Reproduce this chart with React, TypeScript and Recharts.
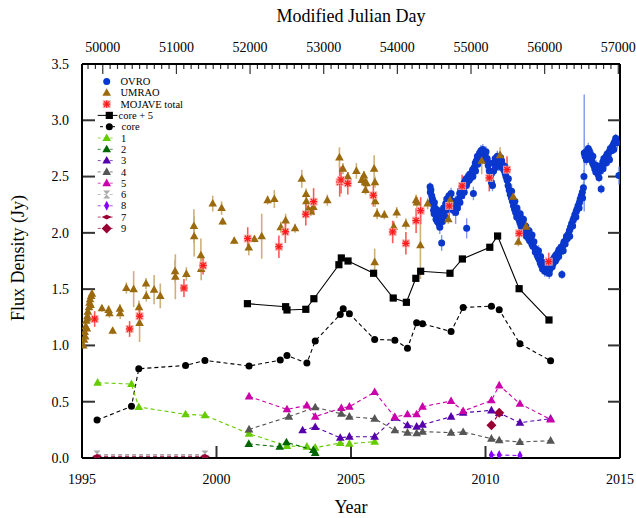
import React from 'react';
import { ScatterChart, Scatter, XAxis, YAxis, ErrorBar, ReferenceLine } from 'recharts';

const FONT = '"Liberation Serif", "Times New Roman", Times, serif';
const W = 636;
const H = 518;
const PL = 82;
const PR = 620;
const PT = 64;
const PB = 458;

// ---- axes ----
const yearTicks = [1995, 2000, 2005, 2010, 2015];
const fluxTicks = [0, 0.5, 1, 1.5, 2, 2.5, 3, 3.5];
const mjdLabels = [50000, 51000, 52000, 53000, 54000, 55000, 56000, 57000];
const MJD0 = 49718; // MJD of 1995-01-01
const mjdDomain = [MJD0, MJD0 + 20 * 365.25];
const mjdTicks: number[] = [];
for (let m = 49800; m <= 57000; m += 100) mjdTicks.push(m);
const toMjd = (year: number) => MJD0 + (year - 1995) * 365.25;

// ---- data: [year, flux, error] ----
const ovro: [number, number, number][] = [
  [2007.94,2.41,0.04],[2007.95,2.36,0.05],[2007.97,2.38,0.04],[2008.00,2.33,0.05],[2008.01,2.28,0.04],[2008.03,2.30,0.06],[2008.06,2.25,0.04],[2008.07,2.20,0.05],[2008.09,2.17,0.04],[2008.10,2.27,0.05],[2008.12,2.22,0.06],[2008.15,2.18,0.04],[2008.16,2.12,0.05],[2008.18,2.15,0.04],[2008.21,2.10,0.05],[2008.22,2.20,0.04],[2008.24,2.13,0.08],[2008.27,2.08,0.05],[2008.28,2.16,0.04],[2008.30,2.05,0.06],[2008.33,2.12,0.05],[2008.37,1.91,0.07],[2008.40,2.10,0.04],[2008.41,2.18,0.05],[2008.44,2.22,0.04],[2008.48,2.15,0.05],[2008.52,2.26,0.04],[2008.53,2.20,0.06],[2008.56,2.30,0.04],[2008.60,2.24,0.05],[2008.64,2.33,0.04],[2008.65,2.28,0.05],[2008.68,2.30,0.04],[2008.72,2.35,0.05],[2008.73,2.25,0.04],[2008.76,2.28,0.06],[2008.80,2.20,0.05],[2008.84,2.24,0.04],[2008.88,2.28,0.05],[2008.89,2.18,0.10],[2008.92,2.26,0.04],[2008.96,2.22,0.05],[2009.00,2.30,0.04],[2009.04,2.35,0.05],[2009.05,2.27,0.04],[2009.08,2.38,0.05],[2009.12,2.33,0.04],[2009.16,2.40,0.05],[2009.20,2.44,0.04],[2009.21,2.36,0.06],[2009.24,2.46,0.04],[2009.28,2.48,0.05],[2009.29,2.42,0.04],[2009.30,2.04,0.09],[2009.32,2.45,0.05],[2009.36,2.50,0.04],[2009.40,2.47,0.05],[2009.41,2.52,0.04],[2009.44,2.49,0.05],[2009.48,2.53,0.04],[2009.52,2.56,0.05],[2009.53,2.50,0.04],[2009.55,2.35,0.06],[2009.58,2.58,0.04],[2009.62,2.62,0.05],[2009.63,2.55,0.04],[2009.66,2.64,0.05],[2009.70,2.68,0.04],[2009.71,2.61,0.05],[2009.74,2.66,0.04],[2009.78,2.71,0.05],[2009.82,2.68,0.04],[2009.83,2.73,0.05],[2009.86,2.70,0.04],[2009.90,2.74,0.05],[2009.91,2.67,0.04],[2009.94,2.71,0.05],[2009.98,2.69,0.04],[2010.02,2.72,0.05],[2010.03,2.64,0.08],[2010.06,2.66,0.04],[2010.10,2.60,0.05],[2010.14,2.55,0.04],[2010.15,2.62,0.05],[2010.18,2.50,0.04],[2010.22,2.45,0.06],[2010.23,2.53,0.04],[2010.26,2.42,0.05],[2010.30,2.55,0.04],[2010.33,2.62,0.05],[2010.36,2.66,0.04],[2010.37,2.58,0.05],[2010.40,2.63,0.04],[2010.44,2.68,0.05],[2010.48,2.65,0.04],[2010.49,2.60,0.05],[2010.52,2.62,0.04],[2010.56,2.67,0.05],[2010.60,2.64,0.04],[2010.61,2.58,0.05],[2010.64,2.60,0.04],[2010.68,2.56,0.05],[2010.72,2.59,0.04],[2010.73,2.53,0.05],[2010.76,2.50,0.04],[2010.80,2.47,0.05],[2010.84,2.42,0.04],[2010.85,2.48,0.05],[2010.88,2.38,0.04],[2010.92,2.34,0.05],[2010.96,2.31,0.04],[2010.97,2.37,0.06],[2011.00,2.28,0.04],[2011.04,2.24,0.05],[2011.08,2.21,0.04],[2011.09,2.28,0.05],[2011.12,2.18,0.04],[2011.16,2.14,0.05],[2011.17,2.22,0.04],[2011.20,2.16,0.05],[2011.24,2.12,0.04],[2011.28,2.09,0.05],[2011.29,2.17,0.04],[2011.32,2.06,0.05],[2011.36,2.10,0.04],[2011.40,2.04,0.05],[2011.41,2.12,0.04],[2011.44,2.02,0.05],[2011.48,1.99,0.04],[2011.49,2.06,0.05],[2011.52,1.97,0.04],[2011.56,2.00,0.05],[2011.60,1.95,0.04],[2011.61,2.02,0.05],[2011.64,1.93,0.04],[2011.68,1.96,0.05],[2011.72,1.90,0.04],[2011.73,1.98,0.05],[2011.76,1.88,0.04],[2011.80,1.92,0.05],[2011.84,1.86,0.04],[2011.85,1.83,0.05],[2011.88,1.85,0.04],[2011.92,1.80,0.05],[2011.96,1.78,0.04],[2011.97,1.84,0.05],[2012.00,1.76,0.04],[2012.04,1.73,0.05],[2012.05,1.79,0.04],[2012.08,1.71,0.05],[2012.12,1.68,0.04],[2012.13,1.74,0.05],[2012.16,1.70,0.04],[2012.20,1.66,0.05],[2012.24,1.69,0.04],[2012.25,1.73,0.05],[2012.28,1.65,0.04],[2012.32,1.67,0.05],[2012.36,1.71,0.04],[2012.37,1.64,0.05],[2012.40,1.68,0.04],[2012.44,1.72,0.05],[2012.48,1.70,0.04],[2012.49,1.76,0.05],[2012.52,1.73,0.04],[2012.56,1.78,0.05],[2012.60,1.75,0.04],[2012.61,1.80,0.05],[2012.64,1.77,0.04],[2012.68,1.82,0.05],[2012.72,1.79,0.04],[2012.73,1.85,0.05],[2012.76,1.83,0.04],[2012.80,1.87,0.05],[2012.84,1.63,0.04],[2012.88,1.89,0.05],[2012.89,1.84,0.04],[2012.92,1.92,0.05],[2012.96,1.90,0.04],[2013.00,1.94,0.05],[2013.01,1.97,0.04],[2013.04,1.95,0.05],[2013.08,1.99,0.04],[2013.12,2.02,0.05],[2013.13,1.97,0.04],[2013.16,2.05,0.05],[2013.20,2.08,0.04],[2013.24,2.06,0.05],[2013.25,2.11,0.04],[2013.28,2.13,0.05],[2013.32,2.16,0.04],[2013.36,2.14,0.05],[2013.37,2.19,0.04],[2013.40,2.21,0.05],[2013.44,2.24,0.04],[2013.48,2.22,0.05],[2013.49,2.27,0.04],[2013.52,2.30,0.05],[2013.56,2.33,0.04],[2013.60,2.36,0.05],[2013.61,2.31,0.06],[2013.64,2.40,0.05],[2013.66,2.50,0.06],[2013.67,2.71,0.52],[2013.70,2.68,0.05],[2013.74,2.72,0.04],[2013.75,2.65,0.05],[2013.78,2.70,0.04],[2013.82,2.75,0.05],[2013.86,2.73,0.04],[2013.87,2.67,0.05],[2013.90,2.70,0.04],[2013.94,2.65,0.05],[2013.98,2.62,0.04],[2013.99,2.68,0.05],[2014.02,2.60,0.04],[2014.06,2.57,0.05],[2014.10,2.54,0.04],[2014.11,2.60,0.05],[2014.14,2.58,0.04],[2014.18,2.52,0.05],[2014.22,2.49,0.04],[2014.26,2.55,0.05],[2014.30,2.39,0.04],[2014.33,2.60,0.05],[2014.36,2.63,0.04],[2014.37,2.57,0.05],[2014.40,2.66,0.04],[2014.44,2.64,0.05],[2014.48,2.62,0.04],[2014.49,2.68,0.05],[2014.52,2.70,0.04],[2014.56,2.67,0.05],[2014.60,2.72,0.04],[2014.61,2.65,0.05],[2014.64,2.75,0.04],[2014.68,2.73,0.05],[2014.72,2.77,0.04],[2014.76,2.79,0.05],[2014.77,2.74,0.04],[2014.80,2.81,0.05],[2014.84,2.84,0.04],[2014.90,2.80,0.05],[2014.96,2.51,0.08],
];

const umrao: [number, number, number][] = [
  [1995.05,1.00,0.03],[1995.08,1.05,0.03],[1995.10,1.12,0.03],[1995.12,1.08,0.03],[1995.14,1.17,0.03],[1995.16,1.22,0.03],[1995.18,1.15,0.03],[1995.20,1.26,0.03],[1995.22,1.30,0.03],[1995.24,1.24,0.04],[1995.26,1.34,0.03],[1995.28,1.38,0.03],[1995.30,1.41,0.03],[1995.32,1.36,0.03],[1995.34,1.44,0.03],[1995.37,1.46,0.03],
  [1995.74,1.33,0.03],[1995.99,1.315,0.04],[1996.02,1.285,0.04],[1996.14,1.13,0.03],[1996.41,1.325,0.04],[1996.42,1.285,0.05],[1996.65,1.51,0.05],[1996.92,1.50,0.16],[1997.12,1.34,0.06],[1997.14,1.20,0.17],[1997.38,1.55,0.05],[1997.39,1.44,0.05],[1997.68,1.495,0.13],[1997.91,1.44,0.11],[1998.46,1.66,0.1],[1998.47,1.61,0.2],[1998.88,1.635,0.06],[1999.16,2.06,0.15],[1999.17,1.97,0.18],[1999.42,1.80,0.15],[1999.43,1.68,0.1],[1999.86,2.26,0.07],[2000.19,2.22,0.06],[2000.23,2.10,0.03],[2000.66,1.93,0.03],
  [2001.20,1.87,0.07],[2001.41,1.945,0.03],[2001.68,1.97,0.2],[2001.90,2.29,0.04],[2002.15,2.30,0.08],[2002.39,2.05,0.05],[2002.57,2.11,0.06],[2002.92,2.04,0.04],[2003.17,2.48,0.08],[2003.33,2.345,0.05],[2003.34,2.28,0.05],[2003.41,2.21,0.04],[2003.51,2.19,0.04],[2003.60,2.23,0.05],[2004.12,2.29,0.05],[2004.57,2.67,0.09],[2004.70,2.57,0.05],[2004.88,2.50,0.04],[2005.20,2.55,0.07],[2005.40,2.47,0.04],[2005.48,2.51,0.04],[2005.53,2.45,0.04],[2005.58,2.44,0.04],[2005.54,2.38,0.04],[2005.86,2.57,0.12],[2005.89,2.45,0.05],[2005.90,2.28,0.05],[2005.88,1.74,0.12],[2005.97,2.17,0.05],[2006.24,2.16,0.04],[2006.59,2.055,0.05],[2006.70,2.18,0.05],[2007.04,2.08,0.05],[2007.42,2.29,0.05],[2007.45,2.27,0.05],[2007.58,1.89,0.3],[2007.85,2.26,0.05],
  [2008.62,2.12,0.04],[2008.68,2.29,0.05],[2009.86,2.64,0.12],[2010.54,2.69,0.07],[2011.03,2.32,0.04],[2011.22,1.92,0.04],[2011.51,2.055,0.06],
];

const mojave: [number, number, number][] = [
  [1995.47,1.235,0.07],[1996.77,1.146,0.07],[1997.14,1.26,0.08],[1998.79,1.51,0.08],[1999.50,1.71,0.08],[2001.16,1.95,0.1],[2002.32,1.877,0.1],[2002.56,2.01,0.1],[2003.32,2.165,0.1],[2003.61,2.277,0.12],[2004.58,2.452,0.13],[2004.63,2.47,0.12],[2004.88,2.44,0.1],[2005.83,2.334,0.1],[2006.55,2.008,0.1],[2007.04,1.907,0.1],[2007.42,2.109,0.11],[2007.59,2.197,0.12],[2008.65,2.239,0.1],[2009.13,2.416,0.1],[2010.14,2.488,0.12],[2010.80,2.561,0.12],[2011.25,1.996,0.1],[2012.35,1.744,0.08],
];

const corePlus5: [number, number][] = [
  [2001.15,1.371],[2002.57,1.344],[2002.62,1.315],[2003.32,1.321],[2003.62,1.415],[2004.55,1.717],[2004.64,1.777],[2004.89,1.750],[2005.84,1.641],[2006.57,1.421],[2007.06,1.383],[2007.41,1.596],[2007.59,1.659],[2008.68,1.641],[2009.14,1.768],[2010.16,1.872],[2010.45,1.972],[2011.25,1.504],[2012.36,1.226],
];

const core: [number, number][] = [
  [1995.56,0.337],[1996.84,0.459],[1997.11,0.793],[1998.85,0.822],[1999.57,0.867],[2001.21,0.817],[2002.37,0.870],[2002.62,0.911],[2003.36,0.843],[2003.67,1.04],[2004.60,1.275],[2004.71,1.325],[2004.94,1.281],[2005.88,1.053],[2006.63,1.047],[2007.10,0.976],[2007.44,1.201],[2007.66,1.192],[2008.72,1.124],[2009.17,1.337],[2010.22,1.349],[2010.51,1.317],[2011.28,1.015],[2012.42,0.864],
];

const comp1: [number, number][] = [
  [1995.58,0.669],[1996.84,0.657],[1997.11,0.453],[1998.85,0.388],[1999.57,0.379],[2001.21,0.216],[2002.62,0.107],[2003.36,0.101],[2003.67,0.092],[2004.60,0.133],[2004.94,0.127],[2005.88,0.145],
];
const comp2: [number, number][] = [
  [2001.20,0.125],[2002.35,0.100],[2002.60,0.140],[2003.60,0.070],[2003.67,0.045],
];
const comp3: [number, number][] = [
  [2003.20,0.246],[2003.67,0.275],[2004.60,0.180],[2004.94,0.189],[2005.88,0.189],[2006.63,0.358],[2007.10,0.290],[2007.44,0.278],[2007.66,0.296],[2008.72,0.367],[2009.17,0.402],[2010.22,0.423],[2010.51,0.400],[2011.28,0.314],[2012.42,0.349],
];
const comp4: [number, number][] = [
  [2001.21,0.254],[2002.69,0.367],[2003.67,0.450],[2004.64,0.393],[2004.94,0.367],[2005.88,0.349],[2006.63,0.246],[2007.10,0.225],[2007.44,0.219],[2007.66,0.234],[2008.72,0.225],[2009.17,0.231],[2010.22,0.172],[2010.51,0.157],[2011.28,0.142],[2012.42,0.154],
];
const comp5: [number, number][] = [
  [2001.21,0.547],[2002.62,0.432],[2003.36,0.467],[2003.67,0.367],[2004.64,0.444],[2004.94,0.456],[2005.88,0.586],[2006.63,0.364],[2007.10,0.388],[2007.44,0.388],[2007.66,0.456],[2008.72,0.506],[2009.17,0.417],[2010.22,0.512],[2010.51,0.645],[2011.28,0.482],[2012.42,0.343],
];
const comp6: [number, number][] = [[1995.56,0.030],[1999.57,0.030]];
const comp7: [number, number][] = [[1995.56,0.015],[1999.57,0.015]];
const comp8: [number, number][] = [[2010.22,0.027],[2010.51,0.027],[2011.28,0.022]];
const comp9: [number, number][] = [[2010.22,0.290],[2010.51,0.402]];

const legendLabels = ['OVRO', 'UMRAO', 'MOJAVE total', 'core + 5', 'core', '1', '2', '3', '4', '5', '6', '8', '7', '9'];

// ---- colours ----
const C = {
  ovro: '#0a37cc', ovroErr: '#7f98ec',
  umrao: '#9c6a0e', umraoErr: '#cdb07a',
  mojave: '#ff1a1a', mojaveErr: '#ff5a5a', mojaveBg: '#ffaaaa',
  c1: '#66cc00', c2: '#006600', c3: '#5500aa', c4: '#555555', c5: '#cc00aa',
  c6: '#aaaaaa', c7: '#990033', c8: '#8800ff', c9: '#990033',
};

type Kind = 'circle' | 'tri' | 'square' | 'star' | 'hour' | 'diamond' | 'vdiamond' | 'hdiamond';

function drawMarker(kind: Kind, color: string, cx: number, cy: number, key?: string | number) {
  switch (kind) {
    case 'circle':
      return <circle key={key} cx={cx} cy={cy} r={3.5} fill={color} />;
    case 'square':
      return <rect key={key} x={cx - 3.6} y={cy - 3.6} width={7.2} height={7.2} fill={color} />;
    case 'tri':
      return <polygon key={key} points={`${cx},${cy - 4.6} ${cx - 4.3},${cy + 3} ${cx + 4.3},${cy + 3}`} fill={color} />;
    case 'star':
      return (
        <g key={key}>
          <rect x={cx - 4} y={cy - 4} width={8} height={8} fill={C.mojaveBg} opacity={0.85} />
          <line x1={cx - 3.6} y1={cy} x2={cx + 3.6} y2={cy} stroke={color} strokeWidth={1.3} />
          <line x1={cx} y1={cy - 3.6} x2={cx} y2={cy + 3.6} stroke={color} strokeWidth={1.3} />
          <line x1={cx - 2.7} y1={cy - 2.7} x2={cx + 2.7} y2={cy + 2.7} stroke={color} strokeWidth={1.3} />
          <line x1={cx - 2.7} y1={cy + 2.7} x2={cx + 2.7} y2={cy - 2.7} stroke={color} strokeWidth={1.3} />
        </g>
      );
    case 'hour':
      return (
        <g key={key}>
          <polygon points={`${cx - 3.5},${cy - 4} ${cx + 3.5},${cy - 4} ${cx},${cy}`} fill={color} />
          <polygon points={`${cx - 3.5},${cy + 4} ${cx + 3.5},${cy + 4} ${cx},${cy}`} fill={color} />
        </g>
      );
    case 'diamond':
      return <polygon key={key} points={`${cx},${cy - 5} ${cx + 5},${cy} ${cx},${cy + 5} ${cx - 5},${cy}`} fill={color} />;
    case 'vdiamond':
      return <polygon key={key} points={`${cx},${cy - 5} ${cx + 2.6},${cy} ${cx},${cy + 5} ${cx - 2.6},${cy}`} fill={color} />;
    case 'hdiamond':
      return <polygon key={key} points={`${cx - 5},${cy} ${cx},${cy - 2.4} ${cx + 5},${cy} ${cx},${cy + 2.4}`} fill={color} />;
    default:
      return null;
  }
}

const shape = (kind: Kind, color: string) => (p: any) => {
  if (p == null || p.cx == null || p.cy == null) return <g />;
  return drawMarker(kind, color, p.cx, p.cy);
};
const noShape = () => <g />;

const withErr = (a: [number, number, number][]) => a.map(([x, y, e]) => ({ x, y, e }));
const pts = (a: [number, number][]) => a.map(([x, y]) => ({ x, y }));
// OVRO dates expressed in MJD: binds the top (MJD) axis to real data
const ovroMjd = ovro.map(([x, y]) => ({ x: toMjd(x), y }));

const DASH = '4 3';
const TICK = '#333';

// ---- tick labels (tick marks are drawn with ReferenceLine shapes) ----
const BottomTick = (p: any) => (
  <text x={p.x} y={PB + 26} textAnchor="middle" fontSize={14} fontFamily={FONT} fill="#000">
    {p.payload.value}
  </text>
);

const TopTick = (p: any) => {
  const v = p.payload.value;
  if (mjdLabels.indexOf(v) < 0) return <g />;
  return (
    <text x={p.x} y={PT - 12} textAnchor="middle" fontSize={14} fontFamily={FONT} fill="#000">
      {v}
    </text>
  );
};

const LeftTick = (p: any) => (
  <text x={PL - 13} y={Number(p.y) + 4.8} textAnchor="end" fontSize={14} fontFamily={FONT} fill="#000">
    {Number(p.payload.value).toFixed(1)}
  </text>
);

// inward tick marks: short pieces at the ends of a reference line
const hTickShape = (p: any) => {
  const xa = Math.min(p.x1, p.x2);
  const xb = Math.max(p.x1, p.x2);
  const y = p.y1;
  return (
    <g>
      <line x1={xa} x2={xa + 13} y1={y} y2={y} stroke={TICK} strokeWidth={2} />
      <line x1={xb - 12} x2={xb} y1={y} y2={y} stroke={TICK} strokeWidth={2} />
    </g>
  );
};
const bottomTickShape = (p: any) => {
  const yb = Math.max(p.y1, p.y2);
  return <line x1={p.x1} x2={p.x1} y1={yb} y2={yb - 12} stroke={TICK} strokeWidth={2} />;
};
const topTickShape = (major: boolean) => (p: any) => {
  const yt = Math.min(p.y1, p.y2);
  return <line x1={p.x1} x2={p.x1} y1={yt} y2={yt + (major ? 10 : 5)} stroke={TICK} strokeWidth={1.2} />;
};

// ---- legend ----
type LegendItem = { kind: Kind; color: string; line?: 'solid' | 'dash'; mx: number; tx: number; lx1?: number; lx2?: number };
const legendStyle: LegendItem[] = [
  { kind: 'circle', color: C.ovro, mx: 106.7, tx: 120.5 },
  { kind: 'tri', color: C.umrao, mx: 106.7, tx: 120.5 },
  { kind: 'star', color: C.mojave, mx: 106.7, tx: 120.5 },
  { kind: 'square', color: '#000', line: 'solid', mx: 109.3, tx: 118.5, lx1: 97.7, lx2: 117.5 },
  { kind: 'circle', color: '#000', line: 'dash', mx: 109.3, tx: 121.5, lx1: 100, lx2: 116 },
  { kind: 'tri', color: C.c1, line: 'dash', mx: 106.7, tx: 121, lx1: 97.7, lx2: 115.5 },
  { kind: 'tri', color: C.c2, line: 'dash', mx: 106.7, tx: 121, lx1: 97.7, lx2: 115.5 },
  { kind: 'tri', color: C.c3, line: 'dash', mx: 106.7, tx: 121, lx1: 97.7, lx2: 115.5 },
  { kind: 'tri', color: C.c4, line: 'dash', mx: 106.7, tx: 121, lx1: 97.7, lx2: 115.5 },
  { kind: 'tri', color: C.c5, line: 'dash', mx: 106.7, tx: 121, lx1: 97.7, lx2: 115.5 },
  { kind: 'hour', color: C.c6, line: 'dash', mx: 106.7, tx: 121, lx1: 97.7, lx2: 115.5 },
  { kind: 'vdiamond', color: C.c8, line: 'dash', mx: 106.7, tx: 121, lx1: 97.7, lx2: 115.5 },
  { kind: 'hdiamond', color: C.c7, line: 'dash', mx: 106.7, tx: 121, lx1: 97.7, lx2: 115.5 },
  { kind: 'diamond', color: C.c9, line: 'dash', mx: 106.7, tx: 121, lx1: 97.7, lx2: 115.5 },
];

const LegendBox = () => (
  <g>
    {legendLabels.map((lab, i) => {
      const s = legendStyle[i];
      const y = 81.5 + i * 11.3;
      return (
        <g key={lab + i}>
          {s.line ? (
            <line
              x1={s.lx1}
              x2={s.lx2}
              y1={y}
              y2={y}
              stroke={s.color}
              strokeWidth={1}
              strokeDasharray={s.line === 'dash' ? '3 3' : undefined}
              opacity={s.line === 'dash' && s.color !== '#000' ? 0.7 : 1}
            />
          ) : null}
          {drawMarker(s.kind, s.color, s.mx, y)}
          <text x={s.tx} y={y + 3.6} fontSize={10.5} fontFamily={FONT} fill="#000">
            {lab}
          </text>
        </g>
      );
    })}
  </g>
);

const YLabel = () => (
  <g>
    <text
      x={24}
      y={258}
      transform="rotate(-90, 24, 258)"
      textAnchor="middle"
      fontSize={18}
      fontFamily={FONT}
      fill="#000"
    >
      Flux Density (Jy)
    </text>
    <LegendBox />
  </g>
);

const XLabel = () => (
  <text x={(PL + PR) / 2} y={513} textAnchor="middle" fontSize={18} fontFamily={FONT} fill="#000">
    Year
  </text>
);

const TopLabel = () => (
  <text x={(PL + PR) / 2} y={22} textAnchor="middle" fontSize={18} fontFamily={FONT} fill="#000">
    Modified Julian Day
  </text>
);

const lineSeries: { data: [number, number][]; kind: Kind; color: string; dash: boolean; name: string }[] = [
  { data: corePlus5, kind: 'square', color: '#000', dash: false, name: 'core + 5' },
  { data: core, kind: 'circle', color: '#000', dash: true, name: 'core' },
  { data: comp1, kind: 'tri', color: C.c1, dash: true, name: '1' },
  { data: comp2, kind: 'tri', color: C.c2, dash: true, name: '2' },
  { data: comp3, kind: 'tri', color: C.c3, dash: true, name: '3' },
  { data: comp4, kind: 'tri', color: C.c4, dash: true, name: '4' },
  { data: comp5, kind: 'tri', color: C.c5, dash: true, name: '5' },
  { data: comp6, kind: 'hour', color: C.c6, dash: true, name: '6' },
  { data: comp8, kind: 'vdiamond', color: C.c8, dash: true, name: '8' },
  { data: comp7, kind: 'hdiamond', color: C.c7, dash: true, name: '7' },
  { data: comp9, kind: 'diamond', color: C.c9, dash: true, name: '9' },
];

const innerFlux = fluxTicks.slice(1, fluxTicks.length - 1);
const innerYears = yearTicks.slice(1, yearTicks.length - 1);

export default function App() {
  return (
    <div style={{ position: 'absolute', left: 0, top: 0, width: W, height: H, overflow: 'hidden', background: '#fff' }}>
      <ScatterChart width={W} height={H} margin={{ top: 0, right: W - PR, bottom: 0, left: 0 }}>
        <XAxis
          xAxisId="year"
          dataKey="x"
          type="number"
          domain={[1995, 2015]}
          ticks={yearTicks}
          interval={0}
          allowDataOverflow
          height={H - PB}
          tickSize={0}
          tickMargin={0}
          tickLine={false}
          tick={BottomTick}
          axisLine={{ stroke: '#000', strokeWidth: 2 }}
          label={XLabel}
        />
        <XAxis
          xAxisId="mjd"
          dataKey="x"
          orientation="top"
          type="number"
          domain={mjdDomain}
          ticks={mjdTicks}
          interval={0}
          allowDataOverflow
          height={PT}
          tickSize={0}
          tickMargin={0}
          tickLine={false}
          tick={TopTick}
          axisLine={{ stroke: '#000', strokeWidth: 2 }}
          label={TopLabel}
        />
        <YAxis
          yAxisId="flux"
          dataKey="y"
          type="number"
          domain={[0, 3.5]}
          ticks={fluxTicks}
          interval={0}
          allowDataOverflow
          width={PL}
          tickSize={0}
          tickMargin={0}
          tickLine={false}
          tick={LeftTick}
          axisLine={{ stroke: '#000', strokeWidth: 2 }}
          label={YLabel}
        />

        {/* frame edges */}
        <ReferenceLine xAxisId="year" yAxisId="flux" x={2015} stroke="#000" strokeWidth={2} ifOverflow="visible" />
        <ReferenceLine xAxisId="year" yAxisId="flux" y={3.5} stroke="#000" strokeWidth={2} ifOverflow="visible" />
        <ReferenceLine xAxisId="year" yAxisId="flux" x={1995} stroke="#000" strokeWidth={2} ifOverflow="visible" />
        <ReferenceLine xAxisId="year" yAxisId="flux" y={0} stroke="#000" strokeWidth={2} ifOverflow="visible" />

        {/* inward tick marks */}
        {innerFlux.map((v) => (
          <ReferenceLine key={'fy' + v} xAxisId="year" yAxisId="flux" y={v} shape={hTickShape} ifOverflow="visible" />
        ))}
        {innerYears.map((v) => (
          <ReferenceLine key={'yr' + v} xAxisId="year" yAxisId="flux" x={v} shape={bottomTickShape} ifOverflow="visible" />
        ))}
        {mjdTicks.map((m) => (
          <ReferenceLine
            key={'mjd' + m}
            xAxisId="mjd"
            yAxisId="flux"
            x={m}
            shape={topTickShape(mjdLabels.indexOf(m) >= 0)}
            ifOverflow="visible"
          />
        ))}

        {/* invisible: OVRO dates on the MJD axis, keeps the top axis bound to data */}
        <Scatter name="OVRO (MJD)" xAxisId="mjd" yAxisId="flux" data={ovroMjd} shape={noShape} isAnimationActive={false} legendType="none" />

        <Scatter name="OVRO" xAxisId="year" yAxisId="flux" data={withErr(ovro)} shape={shape('circle', C.ovro)} isAnimationActive={false}>
          <ErrorBar dataKey="e" direction="y" width={0} stroke={C.ovroErr} strokeWidth={1.4} isAnimationActive={false} />
        </Scatter>
        <Scatter name="UMRAO" xAxisId="year" yAxisId="flux" data={withErr(umrao)} shape={shape('tri', C.umrao)} isAnimationActive={false}>
          <ErrorBar dataKey="e" direction="y" width={0} stroke={C.umraoErr} strokeWidth={1.6} isAnimationActive={false} />
        </Scatter>
        <Scatter name="MOJAVE total" xAxisId="year" yAxisId="flux" data={withErr(mojave)} shape={shape('star', C.mojave)} isAnimationActive={false}>
          <ErrorBar dataKey="e" direction="y" width={0} stroke={C.mojaveErr} strokeWidth={1.6} isAnimationActive={false} />
        </Scatter>
        {lineSeries.map((s) => (
          <Scatter
            key={s.name}
            name={s.name}
            xAxisId="year"
            yAxisId="flux"
            data={pts(s.data)}
            shape={shape(s.kind, s.color)}
            line={{ stroke: s.color, strokeWidth: 1.1, strokeDasharray: s.dash ? DASH : undefined }}
            lineType="joint"
            isAnimationActive={false}
          />
        ))}
      </ScatterChart>
    </div>
  );
}
